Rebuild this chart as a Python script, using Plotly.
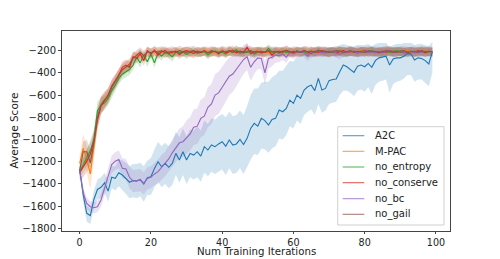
import plotly.graph_objects as go

iters = list(range(100))

a2c = [-1270, -1500, -1665, -1685, -1540, -1450, -1430, -1390, -1465, -1340,
       -1350, -1300, -1320, -1350, -1385, -1370, -1375, -1360, -1400, -1345,
       -1335, -1260, -1200, -1245, -1215, -1250, -1215, -1125, -1185, -1110,
       -1185, -1125, -1140, -1110, -1150, -1065, -1095, -1050, -1065, -1040,
       -1020, -1060, -1005, -1050, -1040, -1000, -1045, -990, -900, -855,
       -880, -810, -830, -870, -820, -810, -735, -750, -720, -645,
       -675, -600, -630, -555, -525, -510, -560, -450, -555, -540,
       -470, -460, -455, -390, -330, -345, -370, -395, -340, -330,
       -345, -315, -350, -290, -265, -255, -250, -330, -275, -265,
       -265, -250, -225, -230, -285, -265, -270, -290, -320, -210]
a2c_lo = [-1300, -1560, -1740, -1760, -1620, -1540, -1520, -1480, -1560, -1440,
          -1460, -1420, -1450, -1490, -1530, -1520, -1530, -1510, -1560, -1500,
          -1500, -1430, -1380, -1430, -1400, -1440, -1410, -1320, -1390, -1320,
          -1400, -1340, -1360, -1340, -1380, -1300, -1330, -1290, -1310, -1290,
          -1270, -1320, -1260, -1310, -1300, -1260, -1310, -1250, -1180, -1130,
          -1140, -1080, -1090, -1120, -1080, -1060, -990, -1000, -960, -880,
          -900, -830, -860, -780, -750, -730, -780, -680, -760, -740,
          -680, -670, -660, -600, -560, -560, -580, -610, -560, -550,
          -570, -530, -590, -510, -480, -470, -460, -580, -500, -480,
          -470, -450, -420, -420, -480, -460, -460, -490, -520, -400]
a2c_hi = [-1240, -1440, -1600, -1620, -1460, -1360, -1340, -1300, -1370, -1240,
          -1240, -1180, -1190, -1210, -1240, -1220, -1220, -1210, -1240, -1190,
          -1170, -1090, -1020, -1060, -1030, -1060, -1020, -930, -980, -900,
          -970, -910, -920, -880, -920, -830, -860, -810, -820, -790,
          -770, -800, -750, -790, -780, -740, -780, -700, -600, -540,
          -540, -490, -480, -480, -440, -420, -380, -380, -340, -290,
          -300, -250, -250, -220, -200, -190, -210, -170, -200, -190,
          -170, -170, -170, -150, -140, -150, -160, -160, -150, -150,
          -150, -140, -160, -140, -130, -130, -130, -170, -150, -140,
          -140, -130, -130, -130, -150, -140, -140, -150, -160, -120]

mpac = [-1215, -1080, -1180, -1310, -1060, -830, -680, -645, -600, -540,
        -480, -410, -380, -345, -330, -260, -250, -230, -255, -215,
        -215, -220, -205, -215, -225, -210, -230, -205, -215, -220,
        -200, -215, -225, -205, -215, -210, -200, -220, -215, -205,
        -210, -225, -200, -215, -210, -205, -215, -220, -205, -210,
        -200, -215, -210, -220, -205, -210, -215, -200, -210, -220,
        -205, -215, -210, -205, -215, -200, -210, -215, -205, -210,
        -220, -205, -210, -200, -215, -210, -205, -215, -210, -200,
        -215, -205, -210, -220, -205, -210, -200, -215, -210, -205,
        -215, -210, -200, -210, -215, -205, -210, -200, -215, -210]
mpac_sd = [60, 130, 120, 140, 120, 90, 70, 60, 60, 55,
           55, 50, 50, 50, 45, 45, 40, 40, 40, 40,
           40, 38, 35, 40, 42, 36, 40, 35, 38, 40,
           36, 38, 40, 35, 38, 36, 40, 38, 35, 40,
           38, 36, 40, 35, 38, 36, 40, 38, 35, 40,
           38, 36, 40, 35, 38, 36, 40, 38, 35, 40,
           38, 36, 40, 35, 38, 36, 40, 38, 35, 40,
           38, 36, 40, 35, 38, 36, 40, 38, 35, 40,
           38, 36, 40, 35, 38, 36, 40, 38, 35, 40,
           38, 36, 40, 35, 38, 36, 40, 38, 35, 40]

no_entropy = [-1290, -1230, -1170, -1100, -1000, -740, -690, -670, -630, -560,
              -510, -450, -410, -390, -370, -330, -260, -310, -240, -300,
              -230, -310, -220, -250, -215, -230, -255, -215, -220, -210,
              -235, -215, -205, -225, -215, -210, -240, -215, -205, -220,
              -215, -230, -205, -215, -190, -225, -210, -215, -205, -230,
              -215, -205, -215, -180, -215, -210, -225, -205, -215, -210,
              -220, -200, -215, -210, -225, -205, -215, -195, -210, -220,
              -205, -215, -210, -200, -220, -215, -205, -210, -220, -205,
              -215, -210, -200, -215, -210, -220, -205, -215, -210, -200,
              -215, -210, -220, -205, -210, -215, -205, -220, -210, -215]
no_entropy_sd = [50, 70, 80, 90, 90, 80, 70, 65, 60, 55,
                 55, 50, 50, 50, 50, 45, 45, 45, 40, 45,
                 40, 45, 38, 40, 36, 40, 42, 36, 38, 35,
                 40, 36, 35, 38, 36, 35, 40, 36, 35, 38,
                 36, 40, 35, 36, 38, 40, 35, 36, 35, 40,
                 36, 35, 38, 40, 36, 35, 38, 36, 35, 38,
                 36, 35, 38, 36, 40, 35, 36, 38, 35, 36,
                 38, 35, 36, 38, 35, 36, 38, 35, 36, 38,
                 35, 36, 38, 35, 36, 38, 35, 36, 38, 35,
                 36, 38, 35, 36, 38, 35, 36, 38, 35, 36]

no_conserve = [-1300, -1250, -1195, -1130, -1020, -820, -700, -650, -600, -520,
               -470, -420, -350, -330, -350, -255, -270, -230, -290, -200,
               -230, -195, -240, -210, -200, -225, -215, -205, -235, -210,
               -200, -215, -225, -205, -215, -200, -220, -210, -205, -230,
               -200, -215, -210, -195, -220, -205, -215, -170, -225, -210,
               -205, -220, -215, -200, -240, -210, -205, -215, -195, -210,
               -220, -205, -215, -200, -210, -225, -205, -215, -200, -210,
               -215, -205, -220, -210, -200, -215, -210, -205, -220, -210,
               -200, -215, -205, -210, -220, -205, -215, -200, -210, -215,
               -205, -220, -210, -205, -215, -200, -210, -215, -205, -210]
no_conserve_sd = [60, 90, 100, 100, 90, 80, 75, 70, 65, 60,
                  60, 55, 55, 50, 50, 50, 45, 45, 45, 40,
                  40, 40, 42, 38, 40, 42, 38, 40, 42, 38,
                  40, 42, 38, 40, 42, 38, 40, 42, 38, 40,
                  42, 38, 40, 42, 38, 40, 42, 38, 40, 42,
                  38, 40, 42, 38, 40, 42, 38, 40, 42, 38,
                  40, 42, 38, 40, 42, 38, 40, 42, 38, 40,
                  42, 38, 40, 42, 38, 40, 42, 38, 40, 42,
                  38, 40, 42, 38, 40, 42, 38, 40, 42, 38,
                  40, 42, 38, 40, 42, 38, 40, 42, 38, 40]

no_bc = [-1270, -1480, -1575, -1605, -1615, -1605, -1545, -1440, -1320, -1225,
         -1195, -1180, -1260, -1265, -1340, -1375, -1370, -1365, -1395, -1350,
         -1340, -1310, -1290, -1250, -1220, -1175, -1120, -1075, -1030, -1020,
         -980, -950, -890, -880, -810, -790, -710, -680, -600, -580,
         -530, -480, -430, -410, -370, -330, -280, -255, -350, -300,
         -265, -270, -400, -270, -260, -240, -245, -230, -260, -215,
         -230, -215, -210, -220, -250, -210, -215, -205, -220, -210,
         -215, -205, -220, -235, -210, -215, -205, -210, -220, -210,
         -205, -215, -210, -220, -205, -215, -210, -200, -215, -210,
         -205, -215, -210, -205, -220, -210, -215, -205, -210, -215]
no_bc_sd = [20, 40, 50, 50, 50, 50, 60, 70, 80, 80,
            80, 80, 90, 90, 100, 100, 100, 100, 100, 100,
            100, 100, 110, 110, 110, 120, 120, 130, 130, 140,
            150, 150, 160, 160, 170, 170, 180, 180, 190, 190,
            190, 180, 170, 160, 150, 140, 130, 120, 120, 110,
            100, 100, 100, 90, 80, 70, 60, 55, 50, 45,
            45, 40, 40, 40, 45, 40, 40, 40, 40, 40,
            40, 40, 40, 45, 40, 40, 40, 40, 40, 40,
            40, 40, 40, 40, 40, 40, 40, 40, 40, 40,
            40, 40, 40, 40, 40, 40, 40, 40, 40, 40]

no_gail = [-1280, -1110, -1110, -1210, -1030, -800, -690, -640, -610, -530,
           -480, -430, -370, -350, -320, -270, -240, -215, -245, -210,
           -220, -205, -215, -200, -220, -210, -205, -215, -200, -210,
           -215, -205, -200, -215, -210, -205, -220, -200, -210, -215,
           -205, -210, -200, -215, -205, -210, -220, -205, -200, -215,
           -210, -205, -215, -200, -210, -205, -215, -210, -200, -215,
           -205, -210, -215, -200, -210, -205, -215, -200, -210, -205,
           -215, -210, -200, -205, -215, -210, -200, -215, -205, -210,
           -215, -200, -210, -205, -215, -210, -200, -205, -215, -210,
           -205, -200, -215, -210, -205, -215, -200, -210, -205, -210]
no_gail_sd = [60, 90, 110, 110, 100, 90, 80, 75, 70, 65,
              60, 60, 55, 55, 50, 50, 45, 45, 45, 45,
              45, 42, 45, 42, 45, 42, 45, 42, 45, 42,
              45, 42, 45, 42, 45, 42, 45, 42, 45, 42,
              45, 42, 45, 42, 45, 42, 45, 42, 45, 42,
              45, 42, 45, 42, 45, 42, 45, 42, 45, 42,
              45, 42, 45, 42, 45, 42, 45, 42, 45, 42,
              45, 42, 45, 42, 45, 42, 45, 42, 45, 42,
              45, 42, 45, 42, 45, 42, 45, 42, 45, 42,
              45, 42, 45, 42, 45, 42, 45, 42, 45, 42]

x_ticks = [0, 20, 40, 60, 80, 100]
y_ticks = [-1800, -1600, -1400, -1200, -1000, -800, -600, -400, -200]

series = [
    ("A2C", a2c, None, "#1f77b4", "rgba(31,119,180,0.2)"),
    ("M-PAC", mpac, mpac_sd, "#ff7f0e", "rgba(255,127,14,0.2)"),
    ("no_entropy", no_entropy, no_entropy_sd, "#2ca02c", "rgba(44,160,44,0.2)"),
    ("no_conserve", no_conserve, no_conserve_sd, "#d62728", "rgba(214,39,40,0.2)"),
    ("no_bc", no_bc, no_bc_sd, "#9467bd", "rgba(148,103,189,0.2)"),
    ("no_gail", no_gail, no_gail_sd, "#8c564b", "rgba(140,86,75,0.2)"),
]

fig = go.Figure()
for name, mean, sd, col, fcol in series:
    if sd is None:
        lo, hi = a2c_lo, a2c_hi
    else:
        lo = [m - s for m, s in zip(mean, sd)]
        hi = [m + s for m, s in zip(mean, sd)]
    fig.add_trace(go.Scatter(
        x=iters + iters[::-1], y=hi + lo[::-1], fill="toself", fillcolor=fcol,
        line=dict(width=0), mode="lines", hoverinfo="skip", showlegend=False))
for name, mean, sd, col, fcol in series:
    fig.add_trace(go.Scatter(x=iters, y=mean, mode="lines", name=name,
                             showlegend=False, line=dict(color=col, width=1.1)))

# Compact legend box (matplotlib-style), drawn in plot-area (paper) coordinates
leg_x0, leg_x1, leg_y0, leg_y1 = 0.7106, 0.9845, 0.03, 0.5215
line_x0, line_x1, text_x = 0.7234, 0.7791, 0.8008
entry_y = [0.4765, 0.3985, 0.32, 0.2415, 0.1615, 0.0835]
fig.add_shape(type="rect", xref="paper", yref="paper", x0=leg_x0, x1=leg_x1,
              y0=leg_y0, y1=leg_y1, line=dict(color="#d0d0d0", width=1),
              fillcolor="rgba(255,255,255,0.8)", layer="above")
for (name, mean, sd, col, fcol), yy in zip(series, entry_y):
    fig.add_shape(type="line", xref="paper", yref="paper", x0=line_x0, x1=line_x1,
                  y0=yy, y1=yy, line=dict(color=col, width=1.1), opacity=0.75,
                  layer="above")
    fig.add_annotation(xref="paper", yref="paper", x=text_x, y=yy, text=name,
                       showarrow=False, xanchor="left", yanchor="middle",
                       font=dict(size=10, color="#222"))

# Axis titles placed as in the reference
fig.add_annotation(xref="paper", yref="paper", x=0.5, y=-0.104, yanchor="middle",
                   text="Num Training Iterations", showarrow=False, borderpad=0,
                   font=dict(size=10.2, color="#222"))
fig.add_annotation(xref="paper", yref="paper", x=-0.125, y=0.5, xanchor="center",
                   text="Average Score", textangle=-90, showarrow=False,
                   font=dict(size=10.5, color="#222"))

axis_common = dict(showline=True, linecolor="#444", linewidth=1, mirror=True,
                   ticks="outside", tickcolor="#444", showgrid=False,
                   zeroline=False, automargin=False)
fig.update_xaxes(range=[-4.95, 103.95], tickvals=x_ticks, ticklen=2,
                 tickfont=dict(size=9.6, color="#222"), **axis_common)
fig.update_yaxes(range=[-1824, -23], tickvals=y_ticks, ticklen=3,
                 tickfont=dict(size=10, color="#222"), **axis_common)
fig.update_layout(
    width=500, height=259, margin=dict(l=62, r=50, t=31, b=28),
    paper_bgcolor="white", plot_bgcolor="white",
    font=dict(family="DejaVu Sans", color="#222"),
    showlegend=False,
)
fig.write_html("out.html")
